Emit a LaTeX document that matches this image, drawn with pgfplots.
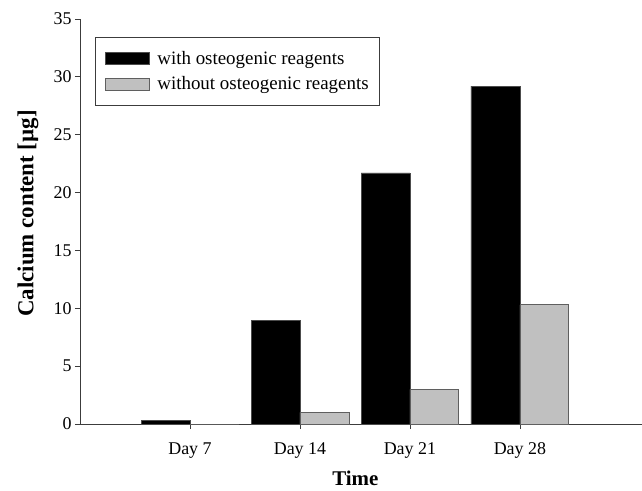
\documentclass[border=0pt]{standalone}
\usepackage{pgfplots}
\pgfplotsset{compat=1.18}
\usepackage{fontspec}
\setmainfont{Liberation Serif}
\definecolor{barGray}{RGB}{192,192,192}
\definecolor{edgeGray}{RGB}{95,95,95}
\definecolor{axGray}{RGB}{60,60,60}
\begin{document}
\begin{tikzpicture}
\begin{axis}[
  scale only axis, width=562bp, height=405bp,
  xmin=0, xmax=5.11, ymin=0, ymax=35,
  axis x line*=bottom, axis y line*=left,
  axis line style={draw=axGray, line width=0.9pt},
  xtick={1,2,3,4}, xticklabels={Day 7, Day 14, Day 21, Day 28},
  ytick={0,5,...,35},
  tick align=outside, major tick length=5bp,
  tick style={draw=axGray, line width=0.8pt},
  ticklabel style={font=\fontsize{18}{20}\selectfont},
  x tick label style={yshift=-10bp},
  /pgf/number format/assume math mode=true,
  xlabel={Time}, ylabel={Calcium content [µg]},
  x label style={font=\fontsize{21}{24}\selectfont\bfseries,
    at={(axis description cs:0.49,0)}, anchor=center, yshift=-54bp},
  y label style={font=\fontsize{23}{26}\selectfont\bfseries,
    at={(axis description cs:0,0.52)}, anchor=center, yshift=52bp},
  legend style={at={(axis description cs:0.027,0.956)}, anchor=north west,
    draw=axGray, line width=0.8pt, font=\fontsize{19}{21}\selectfont,
    inner xsep=9bp, inner ysep=12bp, row sep=7bp,
    nodes={inner sep=2bp},
    /tikz/every odd column/.append style={column sep=6bp}},
  legend cell align=left,
  myleg/.style={legend image code/.code={\draw[##1] (0bp,-6bp) rectangle (44bp,6bp);}},
]
\addplot[ybar, bar width=0.445, bar shift=-0.2225, fill=black, draw=black!70, line width=0.6pt, myleg]
  coordinates {(1,0.3) (2,8.95) (3,21.7) (4,29.2)};
\addlegendentry{with osteogenic reagents}
\addplot[ybar, bar width=0.445, bar shift=0.2225, fill=barGray, draw=edgeGray, line width=0.8pt, myleg]
  coordinates {(1,0) (2,1.0) (3,3.0) (4,10.3)};
\addlegendentry{without osteogenic reagents}
\coordinate (bl) at (rel axis cs:0,0);
\end{axis}
\pgfresetboundingbox
\path (bl) ++(-80bp,-67bp) rectangle ++(642bp,491bp);
\end{tikzpicture}
\end{document}
